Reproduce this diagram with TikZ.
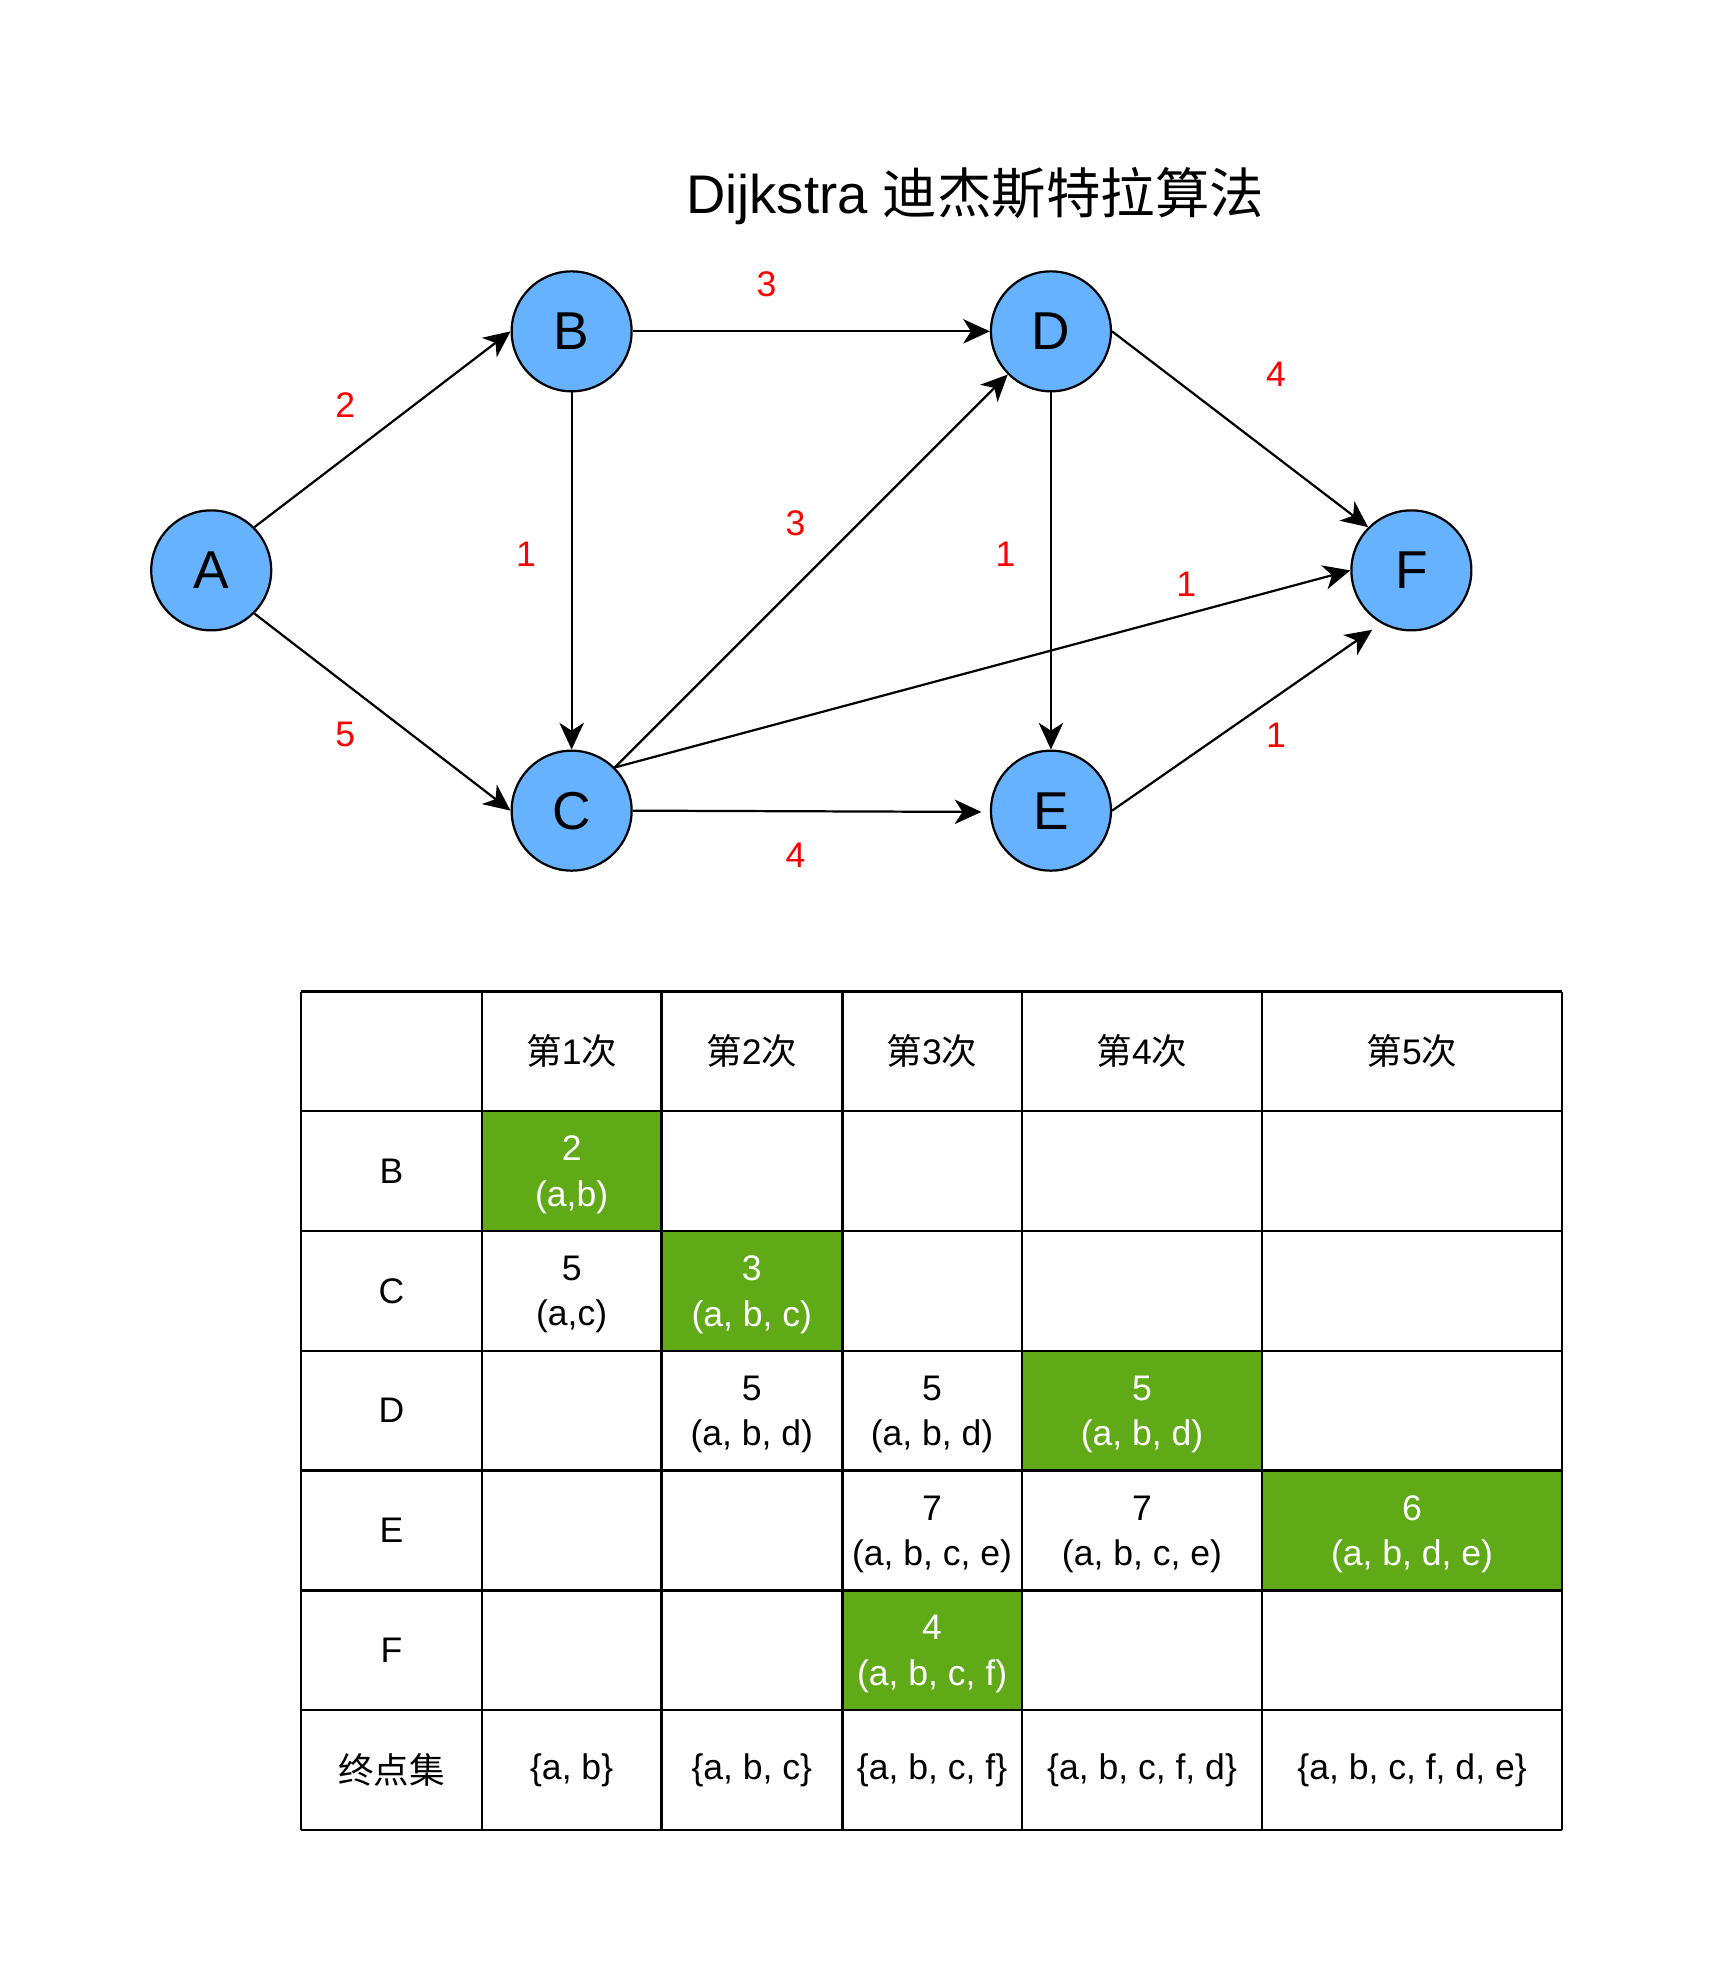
\documentclass[tikz,border=0pt]{standalone}
\usepackage{fontspec}
\setmainfont{Liberation Sans}
\newfontfamily\cjk{Noto Sans CJK SC}
\usetikzlibrary{arrows.meta}
\definecolor{nodeblue}{HTML}{66B2FF}
\definecolor{donegreen}{HTML}{60A917}

\begin{document}
\begin{tikzpicture}[
            x=0.02cm, y=-0.02cm,
            vertex/.style={circle,draw,line width=1pt,fill=nodeblue,minimum size=54pt,inner sep=0pt,
                font=\fontsize{24}{28}\selectfont},
            edge/.style={line width=1pt,-{Stealth[length=12pt,width=11pt,inset=3.5pt]}},
            weight/.style={text=red,font=\fontsize{16}{19}\selectfont},
            cell/.style={align=center,font=\fontsize{16}{20.5}\selectfont},
            value/.style={cell,yshift=-1.7pt},
            done/.style={value,text=white}
        ]
        \useasboundingbox (0,0) rectangle (1355,1568);

        \node[font=\fontsize{24.5}{28}\selectfont] (title) at (771,155) {Dijkstra {\cjk 迪杰斯特拉算法}};

        % graph
        \node[vertex] (A) at (167,451) {A};
        \node[vertex] (B) at (452,262) {B};
        \node[vertex] (C) at (452,641) {C};
        \node[vertex] (D) at (831,262) {D};
        \node[vertex] (E) at (831,641) {E};
        \node[vertex] (F) at (1116,451) {F};
        \coordinate (Eend) at (776,642);
        \coordinate (Fend) at (1085,498);

        \draw[edge] (A.45) -- (B.west);
        \draw[edge] (A.-45) -- (C.west);
        \draw[edge] (B.east) -- (D.west);
        \draw[edge] (B.south) -- (C.north);
        \draw[edge] (C.45) -- (D.-135);
        \draw[edge] (C.45) -- (F.west);
        \draw[edge] (C.east) -- (Eend);
        \draw[edge] (D.south) -- (E.north);
        \draw[edge] (D.east) -- (F.135);
        \draw[edge] (E.east) -- (Fend);

        \foreach \n/\x/\y/\w in {AB/273/320/2, AC/273/581/5, BD/606/225/3, BC/416/438/1, CD/629/414/3,
                DE/795/438/1, DF/1009/296/4, CF/938/462/1, CE/629/676/4, EF/1009/581/1}
            \node[weight] (w\n) at (\x,\y) {\w};

        % table
        \fill[donegreen] (381,878.7) rectangle (523,973.4);
        \fill[donegreen] (523,973.4) rectangle (666,1068.1);
        \fill[donegreen] (808,1068.1) rectangle (998,1162.9);
        \fill[donegreen] (998,1162.9) rectangle (1235,1257.6);
        \fill[donegreen] (666,1257.6) rectangle (808,1352.3);
        \foreach \x in {238,381,523,666,808,998,1235}
            \draw[line width=1.1pt] (\x,784) -- (\x,1447);
        \foreach \y in {784,878.7,973.4,1068.1,1162.9,1257.6,1352.3,1447}
            \draw[line width=1.1pt] (238,\y) -- (1235,\y);

        \foreach \n/\x in {1/452,2/594.5,3/737,4/903,5/1116.5}
            \node[cell] (head\n) at (\x,831.4) {{\cjk 第}\n{\cjk 次}};
        \foreach \r/\y in {B/926,C/1020.7,D/1115.5,E/1210.2,F/1305}
            \node[cell] (row\r) at (309.5,\y) {\r};
        \node[cell] (rowEnd) at (309.5,1399.7) {\cjk 终点集};

        \node[done] (B1) at (452,926) {2\\(a,b)};
        \node[value] (C1) at (452,1020.7) {5\\(a,c)};
        \node[done] (C2) at (594.5,1020.7) {3\\(a, b, c)};
        \node[value] (D2) at (594.5,1115.5) {5\\(a, b, d)};
        \node[value] (D3) at (737,1115.5) {5\\(a, b, d)};
        \node[done] (D4) at (903,1115.5) {5\\(a, b, d)};
        \node[value] (E3) at (737,1210.2) {7\\(a, b, c, e)};
        \node[value] (E4) at (903,1210.2) {7\\(a, b, c, e)};
        \node[done] (E5) at (1116.5,1210.2) {6\\(a, b, d, e)};
        \node[done] (F3) at (737,1305) {4\\(a, b, c, f)};

        \node[cell] (End1) at (452,1399.7) {\{a, b\}};
        \node[cell] (End2) at (594.5,1399.7) {\{a, b, c\}};
        \node[cell] (End3) at (737,1399.7) {\{a, b, c, f\}};
        \node[cell] (End4) at (903,1399.7) {\{a, b, c, f, d\}};
        \node[cell] (End5) at (1116.5,1399.7) {\{a, b, c, f, d, e\}};

    \end{tikzpicture}
\end{document}
